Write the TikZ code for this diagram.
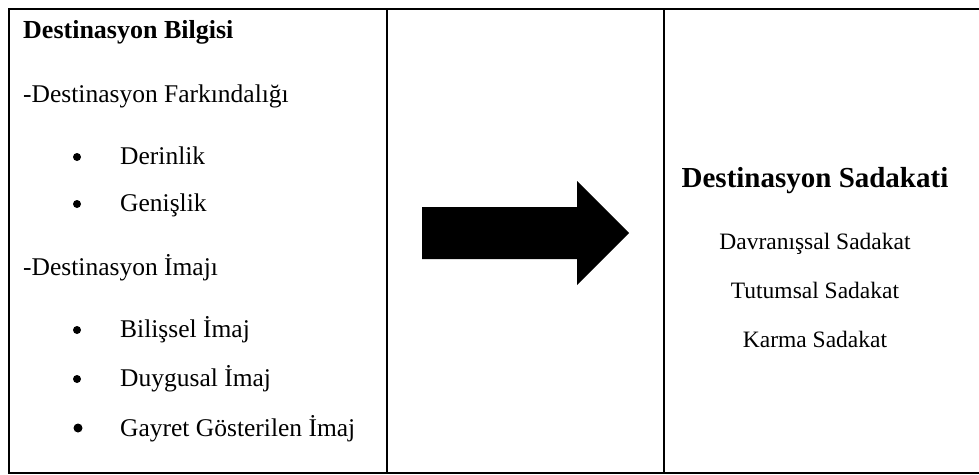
\documentclass[tikz,border=0pt]{standalone}
\usepackage{fontspec}
\setmainfont{Liberation Serif}
\begin{document}
\begin{tikzpicture}[x=1pt,y=-1pt,
  frame/.style={line width=2pt,black},
  txt/.style={anchor=base west,inner sep=0pt,font=\fontsize{25.5}{30}\selectfont},
  ctxt/.style={anchor=base,inner sep=0pt,font=\fontsize{23.5}{28}\selectfont},
  bul/.style={circle,fill=black,inner sep=0pt,minimum size=8pt},
  bigarrow/.style={fill=black}]
\useasboundingbox (0,0) rectangle (979,474);
% table frame
\draw[frame] (8.5,9) -- (979,9);
\draw[frame] (8.5,472.5) -- (979,472.5);
\draw[frame] (8.5,8) -- (8.5,473.5);
\draw[frame] (386.5,9) -- (386.5,472.5);
\draw[frame] (664,9) -- (664,472.5);
% left column
\node[txt,font=\fontsize{26}{30}\selectfont\bfseries] (t1) at (23,38) {Destinasyon Bilgisi};
\node[txt] (a) at (23,102) {-Destinasyon Farkındalığı};
\node[txt] (a1) at (120,164) {Derinlik};
\node[txt] (a2) at (120,211) {Genişlik};
\node[txt] (b) at (23,275) {-Destinasyon İmajı};
\node[txt] (b1) at (120,337) {Bilişsel İmaj};
\node[txt] (b2) at (120,386) {Duygusal İmaj};
\node[txt] (b3) at (120,436) {Gayret Gösterilen İmaj};
\node[bul] (d1) at (77,157) {};
\node[bul] (d2) at (77,204) {};
\node[bul] (d3) at (77,330) {};
\node[bul] (d4) at (77,379) {};
\node[bul,minimum size=9pt] (d5) at (78,428) {};
% arrow
\fill[bigarrow] (422,207) -- (577,207) -- (577,181) -- (629,233) -- (577,285) -- (577,259) -- (422,259) -- cycle;
% right column
\node[ctxt,font=\fontsize{29}{34}\selectfont\bfseries] (r0) at (815,187) {Destinasyon Sadakati};
\node[ctxt] (r1) at (815,249) {Davranışsal Sadakat};
\node[ctxt] (r2) at (815,298) {Tutumsal Sadakat};
\node[ctxt] (r3) at (815,347) {Karma Sadakat};
\end{tikzpicture}
\end{document}
